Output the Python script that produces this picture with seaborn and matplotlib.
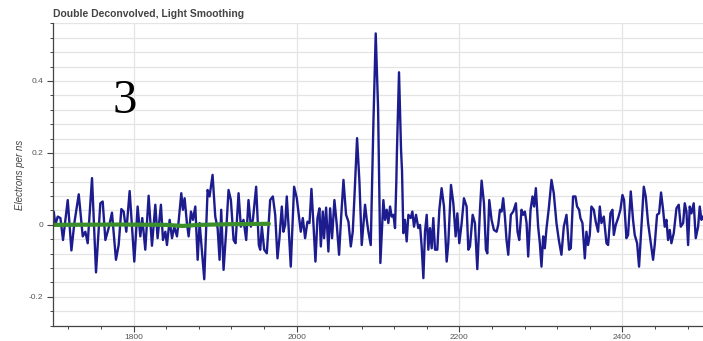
import numpy as np
import pandas as pd
import matplotlib
matplotlib.use("Agg")
import matplotlib.pyplot as plt
import seaborn as sns
from matplotlib.ticker import MultipleLocator, FixedLocator, FixedFormatter

# ---------------- data ----------------
title_text = "Double Deconvolved, Light Smoothing"
y_label = "Electrons per ns"
panel_label = "3"

x_ticks = [1800, 2000, 2200, 2400]
x_tick_labels = ["1800", "2000", "2200", "2400"]
y_ticks = [-0.2, 0.0, 0.2, 0.4]
y_tick_labels = ["-0.2", "0", "0.2", "0.4"]

# blue trace: signal (time in ns, electrons per ns), segment by segment
t_seg1 = [1701.9, 1703.9, 1706.8, 1710.1, 1713.3, 1719.1, 1723.6, 1727.2, 1732.6, 1737.5,
          1740.7, 1743.6, 1748.9, 1753.8, 1759.1, 1762.0, 1765.3, 1769.3, 1773.4, 1778.3,
          1781.6, 1784.9, 1787.7, 1791.0, 1795.1, 1800.8, 1804.9, 1808.2, 1810.6, 1814.3,
          1818.4, 1822.5, 1826.6, 1829.4, 1833.5]
e_seg1 = [0.037, 0.0, 0.023, 0.019, -0.042, 0.069, -0.071, 0.005, 0.085, -0.032,
          -0.019, -0.051, 0.130, -0.132, 0.060, 0.065, -0.042, -0.009, 0.034, -0.097,
          -0.056, 0.044, 0.037, -0.019, 0.094, -0.102, 0.051, -0.032, 0.019, -0.069,
          0.081, -0.058, 0.056, -0.037, 0.056]

t_seg2 = [1836.0, 1838.9, 1840.9, 1844.2, 1847.1, 1849.9, 1853.2, 1855.2, 1858.5, 1860.5,
          1862.6, 1865.4, 1867.5, 1870.4, 1872.8, 1875.7, 1878.6, 1881.0, 1883.9, 1886.7,
          1890.8, 1893.2, 1896.9, 1900.2, 1903.1, 1905.5, 1907.5, 1910.4, 1913.7, 1916.5,
          1919.4, 1922.7, 1925.1, 1928.8, 1931.6, 1934.9, 1938.2, 1941.0, 1943.9, 1946.4,
          1950.4, 1953.7, 1955.4, 1957.4, 1960.3, 1963.5, 1967.6]
e_seg2 = [-0.042, -0.019, -0.056, 0.014, -0.037, -0.005, -0.032, 0.009, 0.088, 0.042,
          0.074, 0.005, -0.032, 0.037, 0.014, 0.051, -0.097, 0.005, -0.074, -0.151,
          0.097, 0.079, 0.139, 0.023, -0.009, -0.097, 0.042, -0.125, -0.014, 0.097,
          0.069, -0.042, -0.051, 0.088, -0.005, 0.014, -0.042, 0.069, -0.005, 0.014,
          0.106, -0.056, -0.069, -0.005, -0.069, -0.079, 0.069]

t_seg3 = [1970.9, 1973.8, 1976.6, 1979.0, 1981.9, 1983.9, 1986.0, 1988.0, 1990.1, 1992.9,
          1997.0, 2000.3, 2002.3, 2005.2, 2007.7, 2010.5, 2013.4, 2015.9, 2018.3, 2020.8,
          2023.2, 2025.7, 2028.1, 2029.8, 2032.2, 2033.8, 2036.3, 2039.1, 2041.2, 2043.6,
          2046.5, 2049.4, 2052.2, 2054.7, 2057.6, 2060.8, 2063.7, 2066.6, 2069.0, 2071.1,
          2074.3, 2077.2, 2080.0, 2082.1, 2084.1, 2086.2, 2088.2, 2091.1, 2094.3, 2097.2,
          2100.1, 2102.9]
e_seg3 = [0.079, 0.028, -0.093, -0.037, 0.051, -0.019, 0.0, 0.079, 0.0, -0.116,
          0.106, 0.074, 0.037, -0.019, 0.019, -0.037, 0.009, 0.005, 0.100, 0.0,
          -0.102, 0.019, 0.046, -0.060, 0.037, -0.037, 0.048, -0.074, 0.046, -0.037,
          0.069, 0.0, -0.083, 0.019, 0.125, 0.028, 0.009, -0.060, -0.019, 0.079,
          0.241, 0.120, -0.056, 0.0, 0.056, 0.014, -0.019, -0.056, 0.278, 0.532,
          0.324, -0.106]

t_seg4 = [2106.6, 2108.6, 2110.7, 2112.7, 2114.8, 2116.8, 2118.9, 2120.9, 2122.5, 2123.2,
          2125.8, 2128.3, 2129.5, 2131.1, 2133.1, 2135.2, 2137.3, 2140.1, 2142.2, 2144.2,
          2146.7, 2149.5, 2151.6, 2153.6, 2155.7, 2157.7, 2159.8, 2161.8, 2163.8, 2165.9,
          2167.9, 2170.0, 2172.8, 2175.3, 2178.1, 2181.0, 2184.3, 2186.3, 2189.6, 2192.5,
          2195.3, 2197.4, 2199.8, 2202.7, 2205.5, 2208.8, 2210.9, 2212.9, 2216.2, 2219.0,
          2221.9, 2225.2, 2227.2, 2230.1, 2232.5, 2234.2, 2236.6]
e_seg4 = [0.069, 0.014, 0.042, 0.005, 0.051, 0.023, 0.028, -0.009, 0.12, 0.2,
          0.424, 0.208, 0.15, -0.023, 0.014, -0.046, 0.028, 0.019, 0.037, -0.005,
          0.028, -0.009, 0.0, -0.060, -0.148, -0.019, 0.028, -0.069, -0.009, -0.065,
          0.019, -0.069, -0.069, 0.042, 0.102, 0.051, -0.102, -0.051, 0.111, 0.060,
          -0.032, 0.032, -0.051, 0.005, 0.074, 0.051, -0.069, -0.060, 0.028, 0.005,
          -0.123, 0.042, 0.123, 0.060, -0.069, -0.079, 0.069]

t_seg5 = [2239.4, 2242.3, 2245.6, 2247.6, 2249.7, 2251.7, 2253.7, 2255.8, 2257.8, 2259.9,
          2263.1, 2266.0, 2269.3, 2271.3, 2273.4, 2276.2, 2278.3, 2280.3, 2282.4, 2284.4,
          2287.3, 2289.7, 2291.7, 2293.8, 2296.6, 2298.7, 2300.7, 2302.8, 2304.8, 2306.9,
          2309.7, 2313.0, 2315.8, 2319.1, 2322.0, 2325.2, 2328.1, 2331.4, 2334.6, 2336.7,
          2339.5, 2342.4, 2344.4, 2346.9, 2348.5, 2351.0, 2353.9, 2355.9, 2357.9, 2360.0,
          2362.0, 2364.9, 2367.3, 2370.2]
e_seg5 = [0.014, -0.014, -0.019, 0.0, 0.042, 0.037, 0.074, 0.023, -0.042, -0.083,
          0.028, 0.037, 0.060, -0.019, -0.042, 0.042, 0.028, 0.037, 0.005, -0.088,
          0.042, 0.079, 0.051, 0.102, -0.005, -0.051, -0.116, -0.032, -0.065, -0.009,
          0.046, 0.125, 0.088, 0.005, -0.042, -0.083, -0.005, 0.028, -0.069, -0.065,
          0.079, 0.079, 0.051, 0.042, 0.019, 0.005, -0.093, -0.019, -0.056, -0.028,
          0.051, 0.042, 0.009, -0.019]

t_seg6 = [2372.3, 2374.3, 2377.2, 2380.5, 2382.5, 2385.4, 2387.8, 2389.5, 2391.9, 2394.8,
          2397.6, 2400.1, 2402.1, 2405.0, 2407.0, 2410.3, 2413.1, 2415.2, 2418.1, 2420.5,
          2423.4, 2426.3, 2428.7, 2431.6, 2434.4, 2437.7, 2439.7, 2442.6, 2445.1, 2447.5,
          2450.0, 2452.0, 2454.1, 2456.1, 2458.2, 2460.2, 2463.1, 2466.4, 2469.2, 2471.7,
          2474.6, 2476.6, 2478.7, 2480.7, 2482.7, 2484.8, 2487.6, 2490.1, 2493.0, 2495.0,
          2497.1, 2498.7]
e_seg6 = [0.051, 0.005, 0.023, -0.051, -0.056, 0.032, 0.042, -0.028, 0.0, 0.019,
          0.042, 0.083, 0.069, -0.037, -0.028, 0.093, 0.014, -0.028, -0.051, -0.116,
          -0.005, 0.106, 0.079, 0.005, -0.042, -0.097, -0.056, 0.028, 0.032, 0.090,
          0.042, -0.005, 0.014, -0.042, -0.014, -0.051, -0.023, 0.046, 0.056, -0.005,
          0.005, 0.060, 0.037, -0.056, 0.051, 0.032, 0.060, -0.037, -0.005, 0.051,
          0.014, 0.023]

# green trace: baseline fit
t_base = [1701.0, 1780.0, 1840.0, 1860.0, 1880.0, 1920.0, 1966.0]
e_base = [0.0, 0.001, 0.0, -0.003, 0.0, 0.002, 0.003]

# ---------------- build ----------------
signal = pd.DataFrame({
    "t": t_seg1 + t_seg2 + t_seg3 + t_seg4 + t_seg5 + t_seg6,
    "e": e_seg1 + e_seg2 + e_seg3 + e_seg4 + e_seg5 + e_seg6,
})
baseline = pd.DataFrame({"t": t_base, "e": e_base})

sns.set_theme(style="white")
plt.rcParams["font.family"] = ["Liberation Sans", "DejaVu Sans"]

W, H = 703, 341
fig = plt.figure(figsize=(W / 100, H / 100), dpi=100)
ax = fig.add_axes([53 / W, 1 - 326 / H, 650 / W, (326 - 23) / H])

grid_c = "#e4e4e4"
ax.set_axisbelow(True)

sns.lineplot(data=signal, x="t", y="e", ax=ax, color="#1c1c8e", linewidth=1.7,
             estimator=None, sort=False)
sns.lineplot(data=baseline, x="t", y="e", ax=ax, color="#3b8f2a", linewidth=3.0,
             estimator=None, sort=False)

ax.set_xlim(1701, 2499)
ax.set_ylim(-0.281, 0.561)

ax.xaxis.set_major_locator(FixedLocator(x_ticks))
ax.xaxis.set_major_formatter(FixedFormatter(x_tick_labels))
ax.xaxis.set_minor_locator(MultipleLocator(40))
ax.yaxis.set_major_locator(FixedLocator(y_ticks))
ax.yaxis.set_major_formatter(FixedFormatter(y_tick_labels))
ax.yaxis.set_minor_locator(MultipleLocator(0.04))

ax.grid(True, which="major", axis="x", color=grid_c, linewidth=0.9)
ax.grid(True, which="both", axis="y", color=grid_c, linewidth=0.9)

for s in ["top", "right"]:
    ax.spines[s].set_visible(False)
for s in ["left", "bottom"]:
    ax.spines[s].set_color("#444444")
    ax.spines[s].set_linewidth(0.9)

ax.tick_params(axis="both", which="major", direction="out", length=4, width=0.8,
               color="#444444", labelsize=6, labelcolor="#555555",
               bottom=True, left=True)
ax.tick_params(axis="both", which="minor", direction="out", length=2.5, width=0.7,
               color="#444444", bottom=True, left=True)
ax.tick_params(axis="y", which="major", pad=3)
ax.tick_params(axis="x", which="major", pad=2)

ax.set_xlabel("")
ax.set_ylabel(y_label, fontsize=7, style="italic", color="#444444")
ax.yaxis.set_label_coords(-0.043, 0.5)

fig.text(53 / W, 1 - 14 / H, title_text, fontsize=7.5, fontweight="bold",
         color="#444444", ha="left", va="center")
fig.text(125 / W, 1 - 101 / H, panel_label, fontsize=35, family="Liberation Serif",
         color="black", ha="center", va="center")

fig.savefig("out.png", dpi=100)
